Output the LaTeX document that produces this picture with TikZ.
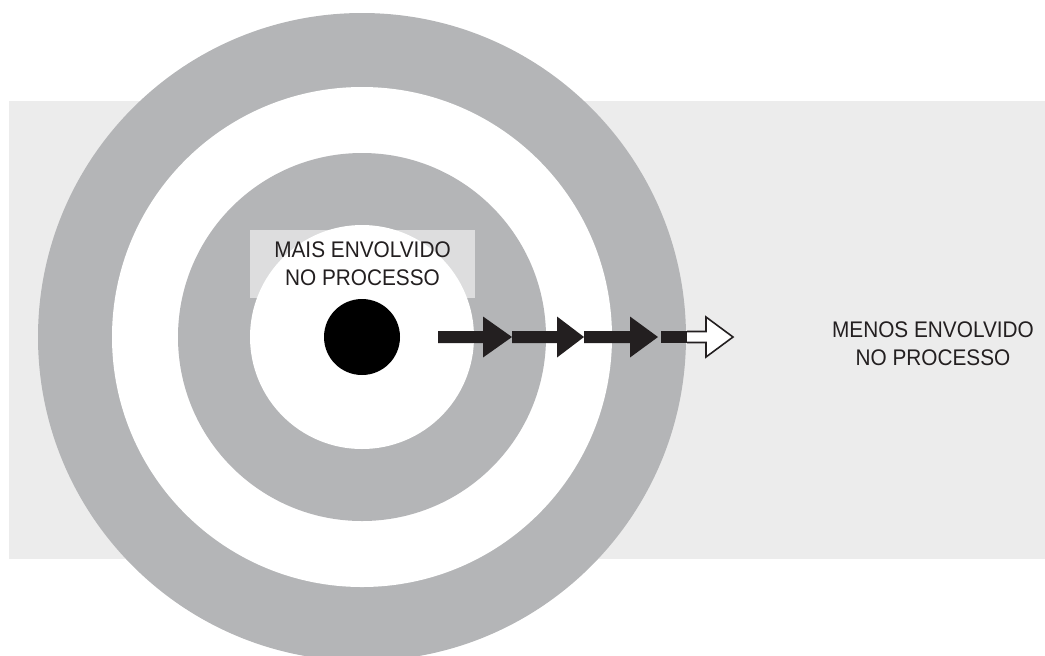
\documentclass[tikz,border=0pt]{standalone}
\usepackage{fontspec}
\setmainfont{Liberation Sans}[FakeStretch=0.92]
\usetikzlibrary{calc}

\definecolor{ringgray}{HTML}{B4B5B7}
\definecolor{backgray}{HTML}{ECECEC}
\definecolor{inkblack}{HTML}{231F20}

\tikzset{
  label text/.style={align=center, text=inkblack,
    font=\fontsize{11.3}{13.8}\selectfont},
  ring/.style={fill=ringgray},
  hole/.style={fill=white}
}

\begin{document}
\begin{tikzpicture}[x=0.5pt,y=-0.5pt]
    % canvas in pixels, y downwards
    \useasboundingbox (0,0) rectangle (1045,655);

    % light background band
    \fill[backgray] (9,101) rectangle (1045,559);

    % target rings around the centre
    \coordinate (c) at (362,337);
    \fill[ring] (c) circle (324);
    \fill[hole] (c) circle (250);
    \fill[ring] (c) circle (184);
    \fill[hole] (c) circle (112);
    \fill[black] (c) circle (38);

    % label over the inner ring
    \node[label text, fill=white, fill opacity=0.55, text opacity=1,
          minimum width=112.5pt, minimum height=34pt, inner sep=0pt]
          (inner) at (362.5,264) {MAIS ENVOLVIDO\\NO PROCESSO};

    % label outside the target
    \node[label text] (outer) at (933,344) {MENOS ENVOLVIDO\\NO PROCESSO};

    % black arrows: shaft start / head base / tip
    \foreach \s/\b/\t in {438/483/512, 512/557/584, 584/630/658}
        \fill[inkblack] (\s,331) -- (\b,331) -- (\b,316.5) -- (\t,337)
            -- (\b,357.5) -- (\b,343) -- (\s,343) -- cycle;

    % last arrow: black inside the ring, white outside
    \fill[inkblack] (661,331) rectangle (687,343);
    \draw[inkblack, fill=white, line width=0.8pt]
        (687,331.5) -- (706,331.5) -- (706,317) -- (733,337)
        -- (706,357) -- (706,342.5) -- (687,342.5);
\end{tikzpicture}
\end{document}
